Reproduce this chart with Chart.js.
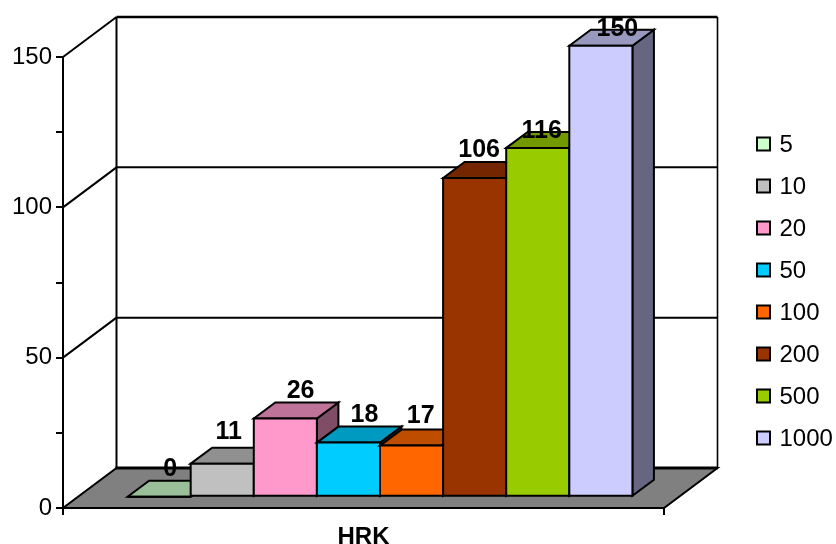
<!DOCTYPE html>
<html>
<head>
<meta charset="utf-8">
<style>
  body { margin: 0; background: #fff; }
  canvas { display: block; }
</style>
<script src="https://cdn.jsdelivr.net/npm/chart.js@4"></script>
</head>
<body>
<canvas id="chart" width="836" height="544"></canvas>
<script>
const categories = ["HRK"];
const seriesNames = ["5", "10", "20", "50", "100", "200", "500", "1000"];
const seriesValues = [0, 11, 26, 18, 17, 106, 116, 150];
const seriesColors = ["#CCFFCC", "#C0C0C0", "#FF99CC", "#00CCFF", "#FF6600", "#993300", "#99CC00", "#CCCCFF"];
const gridValues = [0, 50, 100, 150];

const FONT = "'Liberation Sans', Arial, sans-serif";
// depth of the box and of the bars, in pixels
const WALL = { x: 53.5, y: -40 };
const BAR_SHIFT = { x: 16.5, y: -11.3 };
const BAR_DEPTH = { x: 21.5, y: -16 };
// the value labels sit by hand in the original, not at a fixed distance
const labelNudge = [[11, -28], [6.5, -32], [15.2, -27], [16, -27.5], [9.2, -29.5], [4.5, -28], [4, -17], [16.5, -17]];

function shade(hex, f) {
  const n = parseInt(hex.slice(1), 16);
  const c = [n >> 16, (n >> 8) & 255, n & 255].map((v) => Math.round(v * f));
  return `rgb(${c[0]},${c[1]},${c[2]})`;
}

function poly(ctx, pts, fill, width) {
  ctx.beginPath();
  pts.forEach((p, i) => (i ? ctx.lineTo(p[0], p[1]) : ctx.moveTo(p[0], p[1])));
  ctx.closePath();
  if (fill) {
    ctx.fillStyle = fill;
    ctx.fill();
  }
  ctx.lineWidth = width;
  ctx.strokeStyle = "#000";
  ctx.stroke();
}

function line(ctx, x1, y1, x2, y2, width) {
  ctx.beginPath();
  ctx.moveTo(x1, y1);
  ctx.lineTo(x2, y2);
  ctx.lineWidth = width;
  ctx.strokeStyle = "#000";
  ctx.stroke();
}

const box3d = {
  id: "box3d",
  // floor and walls go under the axes
  beforeDraw(chart) {
    const { ctx, chartArea: a, scales } = chart;
    const y0 = scales.y.getPixelForValue(0);
    const yTop = scales.y.getPixelForValue(150);
    ctx.save();
    poly(ctx, [[a.left, y0], [a.right, y0], [a.right + WALL.x, y0 + WALL.y], [a.left + WALL.x, y0 + WALL.y]], "#808080", 2);
    gridValues.slice(1).forEach((v) => {
      const y = scales.y.getPixelForValue(v);
      line(ctx, a.left, y, a.left + WALL.x, y + WALL.y, 2);
      line(ctx, a.left + WALL.x, y + WALL.y, a.right + WALL.x, y + WALL.y, v === 150 ? 2.5 : 2);
    });
    line(ctx, a.left + WALL.x, yTop + WALL.y, a.left + WALL.x, y0 + WALL.y, 2);
    line(ctx, a.right + WALL.x, yTop + WALL.y, a.right + WALL.x, y0 + WALL.y, 1.6);
    line(ctx, a.left + WALL.x - 1, y0 + WALL.y, a.right + WALL.x, y0 + WALL.y, 3);
    ctx.restore();
  },
  // bars have to paint left to right, so the default back-to-front pass is skipped
  beforeDatasetDraw() {
    return false;
  },
  afterDatasetsDraw(chart) {
    const { ctx } = chart;
    ctx.save();
    ctx.translate(BAR_SHIFT.x, BAR_SHIFT.y);
    seriesValues.forEach((v, i) => {
      const bar = chart.getDatasetMeta(i).data[0];
      const l = bar.x - bar.width / 2;
      const r = bar.x + bar.width / 2;
      const t = bar.y;
      const b = bar.base;
      const d = BAR_DEPTH;
      poly(ctx, [[r, t], [r + d.x, t + d.y], [r + d.x, b + d.y], [r, b]], shade(seriesColors[i], 0.5), 2);
      poly(ctx, [[l, t], [l + d.x, t + d.y], [r + d.x, t + d.y], [r, t]], shade(seriesColors[i], 0.75), 2);
      bar.draw(ctx);
      poly(ctx, [[l, t], [r, t], [r, b], [l, b]], null, 2);
    });
    ctx.restore();

    ctx.save();
    ctx.fillStyle = "#000";
    ctx.textAlign = "center";
    ctx.textBaseline = "middle";
    ctx.font = `bold 25px ${FONT}`;
    seriesValues.forEach((v, i) => {
      const bar = chart.getDatasetMeta(i).data[0];
      ctx.fillText(String(v), bar.x + BAR_SHIFT.x + labelNudge[i][0], bar.y + BAR_SHIFT.y + labelNudge[i][1]);
    });
    ctx.restore();
  },
  afterDraw(chart) {
    const { ctx } = chart;
    ctx.save();
    ctx.font = `24px ${FONT}`;
    ctx.textBaseline = "middle";
    seriesNames.forEach((name, i) => {
      const y = 144 + i * 42;
      ctx.fillStyle = seriesColors[i];
      ctx.fillRect(757, y - 6.5, 13, 13);
      ctx.lineWidth = 2;
      ctx.strokeStyle = "#000";
      ctx.strokeRect(757, y - 6.5, 13, 13);
      ctx.fillStyle = "#000";
      ctx.fillText(name, 779.5, y + 1);
    });
    ctx.restore();
  },
};

new Chart(document.getElementById("chart"), {
  type: "bar",
  data: {
    labels: categories,
    datasets: seriesNames.map((name, i) => ({
      label: name,
      data: [seriesValues[i]],
      backgroundColor: seriesColors[i],
      borderWidth: 0,
    })),
  },
  options: {
    responsive: false,
    animation: false,
    layout: { padding: { top: 57, right: 172, left: 0, bottom: 0 } },
    plugins: { legend: { display: false }, tooltip: { enabled: false } },
    datasets: { bar: { categoryPercentage: 0.84, barPercentage: 1 } },
    scales: {
      x: {
        afterFit(scale) {
          scale.height = 36;
        },
        border: { color: "#000", width: 2 },
        grid: { drawOnChartArea: false, color: "#000", lineWidth: 2, tickLength: 7 },
        ticks: { color: "#000", padding: 8, font: { family: FONT, size: 24, weight: "bold" } },
      },
      y: {
        min: 0,
        max: 150,
        afterFit(scale) {
          scale.width = 63;
        },
        border: { color: "#000", width: 2 },
        grid: { drawOnChartArea: false, color: "#000", lineWidth: 2, tickLength: 7 },
        ticks: {
          stepSize: 25,
          color: "#000",
          padding: 4,
          font: { family: FONT, size: 24 },
          callback: (v) => (v % 50 === 0 ? v : ""),
        },
      },
    },
  },
  plugins: [box3d],
});
</script>
</body>
</html>
